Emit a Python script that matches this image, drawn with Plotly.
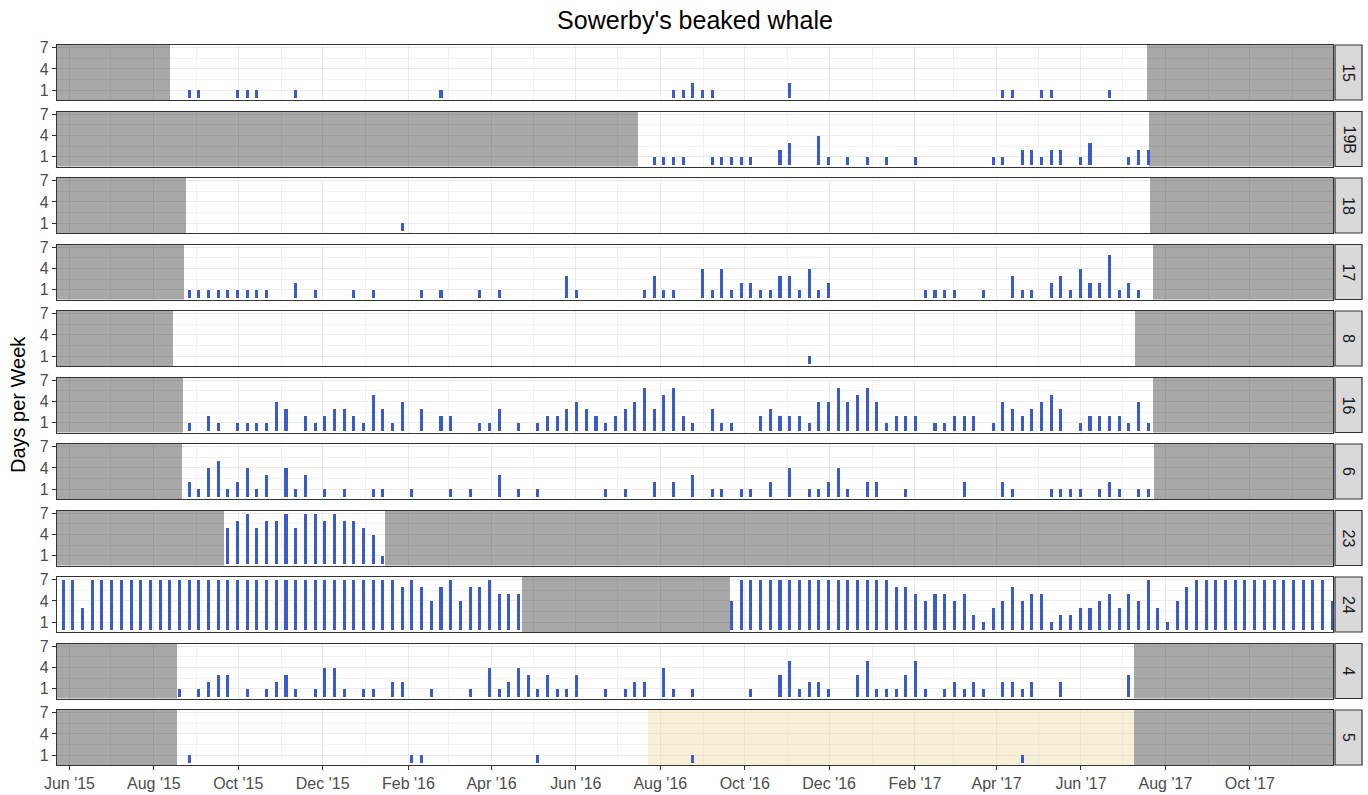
import pandas as pd
import plotly.graph_objects as go
from plotly.subplots import make_subplots

# ---------------- data ----------------
SITES = ["15", "19B", "18", "17", "8", "16", "6", "23", "24", "4", "5"]
TITLE = "Sowerby's beaked whale"
Y_TITLE = "Days per Week"
WEEK0 = "2015-05-27 12:00"          # centre date of week index 0
X_START = "2015-05-23"
X_END = "2017-11-30 03:00"
Y_TICKS = [1, 4, 7]

# (week index, days with detections)
S15 = [(13, 1), (14, 1), (18, 1), (19, 1), (20, 1), (24, 1), (39, 1), (63, 1), (64, 1),
       (65, 2), (66, 1), (67, 1), (75, 2), (97, 1), (98, 1), (101, 1), (102, 1), (108, 1)]
S19B = [(61, 1), (62, 1), (63, 1), (64, 1), (67, 1), (68, 1), (69, 1), (70, 1), (71, 1),
        (74, 2), (75, 3), (78, 4), (79, 1), (81, 1), (83, 1), (85, 1), (88, 1), (96, 1),
        (97, 1), (99, 2), (100, 2), (101, 1), (102, 2), (103, 2), (105, 1), (106, 3),
        (110, 1), (111, 2), (112, 2)]
S18 = [(35, 1)]
S17 = [(13, 1), (14, 1), (15, 1), (16, 1), (17, 1), (18, 1), (19, 1), (20, 1), (21, 1),
       (24, 2), (26, 1), (30, 1), (32, 1), (37, 1), (39, 1), (43, 1), (45, 1), (52, 3),
       (53, 1), (60, 1), (61, 3), (62, 1), (63, 1), (66, 4), (67, 1), (68, 4), (69, 1),
       (70, 2), (71, 2), (72, 1), (73, 1), (74, 3), (75, 3), (76, 1), (77, 4), (78, 1),
       (79, 2), (89, 1), (90, 1), (91, 1), (92, 1), (95, 1), (98, 3), (99, 1), (100, 1),
       (102, 2), (103, 3), (104, 1), (105, 4), (106, 2), (107, 2), (108, 6), (109, 1),
       (110, 2), (111, 1)]
S8 = [(77, 1)]
S16 = [(13, 1), (15, 2), (16, 1), (18, 1), (19, 1), (20, 1), (21, 1), (22, 4), (23, 3),
       (25, 2), (26, 1), (27, 2), (28, 3), (29, 3), (30, 2), (31, 1), (32, 5), (33, 3),
       (34, 1), (35, 4), (37, 3), (39, 2), (40, 2), (43, 1), (44, 1), (45, 3), (47, 1),
       (49, 1), (50, 2), (51, 2), (52, 3), (53, 4), (54, 3), (55, 2), (56, 1), (57, 2),
       (58, 3), (59, 4), (60, 6), (61, 3), (62, 5), (63, 6), (64, 2), (65, 1), (67, 3),
       (68, 1), (69, 1), (72, 2), (73, 3), (74, 2), (75, 2), (76, 2), (77, 1), (78, 4),
       (79, 4), (80, 6), (81, 4), (82, 5), (83, 6), (84, 4), (85, 1), (86, 2), (87, 2),
       (88, 2), (90, 1), (91, 1), (92, 2), (93, 2), (94, 2), (96, 1), (97, 4), (98, 3),
       (99, 2), (100, 3), (101, 4), (102, 5), (103, 3), (105, 1), (106, 2), (107, 2),
       (108, 2), (109, 2), (110, 1), (111, 4), (112, 1)]
S6 = [(13, 2), (14, 1), (15, 4), (16, 5), (17, 1), (18, 2), (19, 4), (20, 1), (21, 3),
      (23, 4), (24, 1), (25, 3), (27, 1), (29, 1), (32, 1), (33, 1), (36, 1), (40, 1),
      (42, 1), (45, 3), (47, 1), (49, 1), (56, 1), (58, 1), (61, 2), (63, 2), (65, 3),
      (67, 1), (68, 1), (70, 1), (71, 1), (73, 2), (75, 4), (77, 1), (78, 1), (79, 2),
      (80, 4), (81, 1), (83, 2), (84, 2), (87, 1), (93, 2), (97, 2), (98, 1), (102, 1),
      (103, 1), (104, 1), (105, 1), (107, 1), (108, 2), (109, 1), (111, 1), (112, 1)]
S23 = [(17, 5), (18, 6), (19, 7), (20, 5), (21, 6), (22, 6), (23, 7), (24, 5), (25, 7),
       (26, 7), (27, 6), (28, 7), (29, 6), (30, 6), (31, 5), (32, 4), (33, 1)]
# site 24: one value per week from week 0 to week 131 (None = no effort)
S24 = [7, 7, 3, 7, 7, 7, 7, 7, 7, 7,
       7, 7, 7, 7, 7, 7, 7, 7, 7, 7,
       7, 7, 7, 7, 7, 7, 7, 7, 7, 7,
       7, 7, 7, 7, 7,
       6, 7, 6, 4, 6, 7, 4, 6, 6, 7, 5, 5, 5,
       None, None, None, None, None, None, None, None, None, None, None,
       None, None, None, None, None, None, None, None, None, None,
       4, 7, 7, 7, 7, 7, 7, 7, 7, 7, 7, 7, 7, 7, 7, 7, 7,
       6, 6, 5, 4, 5, 5, 4, 5, 2, 1, 3, 4, 6, 4, 5, 5, 1, 2, 2, 3,
       3, 4, 5, 3, 5, 4, 7, 3, 1, 4, 6,
       7, 7, 7, 7, 7, 7, 7, 7, 7, 7, 7, 7, 7, 7, 4]
S4 = [(12, 1), (14, 1), (15, 2), (16, 3), (17, 3), (19, 1), (21, 1), (22, 2), (23, 3),
      (24, 1), (26, 1), (27, 4), (28, 4), (29, 1), (31, 1), (32, 1), (34, 2), (35, 2),
      (38, 1), (42, 1), (44, 4), (45, 1), (46, 2), (47, 4), (48, 3), (49, 1), (50, 3),
      (51, 1), (52, 1), (53, 3), (56, 1), (58, 1), (59, 2), (60, 2), (62, 4), (63, 1),
      (65, 1), (71, 1), (74, 3), (75, 5), (76, 1), (77, 2), (78, 2), (79, 1), (82, 3),
      (83, 5), (84, 1), (85, 1), (86, 1), (87, 3), (88, 5), (89, 1), (91, 1), (92, 2),
      (93, 1), (94, 2), (95, 1), (97, 2), (98, 2), (99, 1), (100, 2), (103, 2), (110, 3)]
S5 = [(13, 1), (36, 1), (37, 1), (49, 1), (65, 1), (99, 1)]

# periods without recording effort (grey) per site
OFF_15 = [(None, "2015-08-13"), ("2017-07-19", None)]
OFF_19B = [(None, "2016-07-16"), ("2017-07-20", None)]
OFF_18 = [(None, "2015-08-24"), ("2017-07-21", None)]
OFF_17 = [(None, "2015-08-23"), ("2017-07-23", None)]
OFF_8 = [(None, "2015-08-15"), ("2017-07-10", None)]
OFF_16 = [(None, "2015-08-22"), ("2017-07-23", None)]
OFF_6 = [(None, "2015-08-21"), ("2017-07-24", None)]
OFF_23 = [(None, "2015-09-21"), ("2016-01-15", None)]
OFF_24 = [("2016-04-23", "2016-09-20")]
OFF_4 = [(None, "2015-08-18"), ("2017-07-09", None)]
OFF_5 = [(None, "2015-08-18"), ("2017-07-09", None)]
# partial effort period (yellow) per site
PARTIAL_5 = [("2016-07-23", "2017-07-09")]

# ---------------- figure ----------------
def week_date(k):
    return pd.Timestamp(WEEK0) + pd.Timedelta(days=7 * k)

pairs_by_site = {"15": S15, "19B": S19B, "18": S18, "17": S17, "8": S8, "16": S16,
                 "6": S6, "23": S23, "4": S4, "5": S5}
off_by_site = {"15": OFF_15, "19B": OFF_19B, "18": OFF_18, "17": OFF_17, "8": OFF_8,
               "16": OFF_16, "6": OFF_6, "23": OFF_23, "24": OFF_24, "4": OFF_4, "5": OFF_5}
partial_by_site = {"5": PARTIAL_5}

W, H = 1368, 795
ML, MR, MT, MB = 57, 35, 45, 30
PW = W - ML - MR
PH = H - MT - MB
n = len(SITES)
gap_px = 11.5
vs = gap_px / PH
Y_RANGE = [-0.35, 7.35]

fig = make_subplots(rows=n, cols=1, shared_xaxes=True, vertical_spacing=vs)

BAR_COLOR = "#3A5BCD"
BAR_W = 2.2 * 86400000
FONT = "Liberation Sans, Arial, sans-serif"
STRIP_X0, STRIP_X1 = 2, 29   # px right of the panel edge
TICK_SIZE = 16


def region_bar(periods, color):
    xs, ws = [], []
    for a, b in periods:
        t0 = pd.Timestamp(a or X_START)
        t1 = pd.Timestamp(b or X_END)
        xs.append(t0)
        ws.append((t1 - t0).total_seconds() * 1000)
    return go.Bar(x=xs, y=[Y_RANGE[1] - Y_RANGE[0]] * len(xs), base=Y_RANGE[0],
                  width=ws, offset=0, marker_color=color, marker_line_width=0,
                  showlegend=False, hoverinfo="skip")


for i, site in enumerate(SITES):
    row = i + 1
    if site in off_by_site:
        fig.add_trace(region_bar(off_by_site[site], "rgba(0,0,0,0.34)"), row=row, col=1)
    if site in partial_by_site:
        fig.add_trace(region_bar(partial_by_site[site], "rgba(235,212,150,0.38)"),
                      row=row, col=1)
    if site == "24":
        xs = [week_date(k) for k, v in enumerate(S24) if v is not None]
        ys = [v for v in S24 if v is not None]
    else:
        xs = [week_date(k) for k, _ in pairs_by_site[site]]
        ys = [v for _, v in pairs_by_site[site]]
    fig.add_trace(go.Bar(x=xs, y=ys, width=[BAR_W] * len(xs), marker_color=BAR_COLOR,
                         marker_line_width=0, showlegend=False,
                         hovertemplate="%{x|%d %b %Y}: %{y}<extra>" + site + "</extra>"),
                  row=row, col=1)

    yref = "y domain" if row == 1 else f"y{row} domain"
    fig.add_shape(type="rect", xref="paper", yref=yref,
                  x0=1 + STRIP_X0 / PW, x1=1 + STRIP_X1 / PW, y0=0, y1=1,
                  fillcolor="#D9D9D9", line=dict(color="#333333", width=1.2))
    fig.add_annotation(xref="paper", yref=yref, x=1 + (STRIP_X0 + STRIP_X1) / 2 / PW,
                       y=0.5, text=site, showarrow=False, textangle=90,
                       xanchor="center", yanchor="middle",
                       font=dict(size=TICK_SIZE, color="#1A1A1A", family=FONT))

fig.update_xaxes(type="date", range=[X_START, X_END], tick0="2015-06-01", dtick="M2",
                 tickformat="%b '%y", showgrid=True, gridcolor="#EBEBEB", gridwidth=1.4,
                 minor=dict(dtick="M1", tick0="2015-06-01", showgrid=True,
                            gridcolor="#F2F2F2", gridwidth=0.8),
                 showline=True, mirror=True, linecolor="#333333", linewidth=1.2,
                 zeroline=False, ticks="", showticklabels=False, automargin=False,
                 tickfont=dict(size=TICK_SIZE, color="#4D4D4D", family=FONT))
fig.update_xaxes(ticks="outside", ticklen=4, tickcolor="#333333", tickwidth=1,
                 showticklabels=True, row=n, col=1)

fig.update_yaxes(range=Y_RANGE, tickmode="array", tickvals=Y_TICKS,
                 showgrid=True, gridcolor="#EBEBEB", gridwidth=1.4,
                 minor=dict(tickmode="array", tickvals=[2.5, 5.5], showgrid=True,
                            gridcolor="#F2F2F2", gridwidth=0.8),
                 showline=True, mirror=True, linecolor="#333333", linewidth=1.2,
                 zeroline=False, ticks="outside", ticklen=4, tickcolor="#333333",
                 tickwidth=1, automargin=False,
                 tickfont=dict(size=TICK_SIZE, color="#4D4D4D", family=FONT))

fig.add_annotation(xref="paper", yref="paper", x=(18 - ML) / PW, y=0.5, text=Y_TITLE,
                   showarrow=False, textangle=-90, xanchor="center", yanchor="middle",
                   font=dict(size=20, color="#000000", family=FONT))

fig.update_layout(
    width=W, height=H,
    margin=dict(l=ML, r=MR, t=MT, b=MB, autoexpand=False),
    paper_bgcolor="white", plot_bgcolor="white",
    title=dict(text=TITLE, x=0.5, xref="paper", xanchor="center",
               y=1 - 20 / H, yref="container", yanchor="middle",
               font=dict(size=25, color="#000000", family=FONT)),
    font=dict(family=FONT),
    barmode="overlay",
    bargap=0,
)

fig.write_html("out.html", config={"displayModeBar": False},
               post_script="document.body.style.margin='0';")
